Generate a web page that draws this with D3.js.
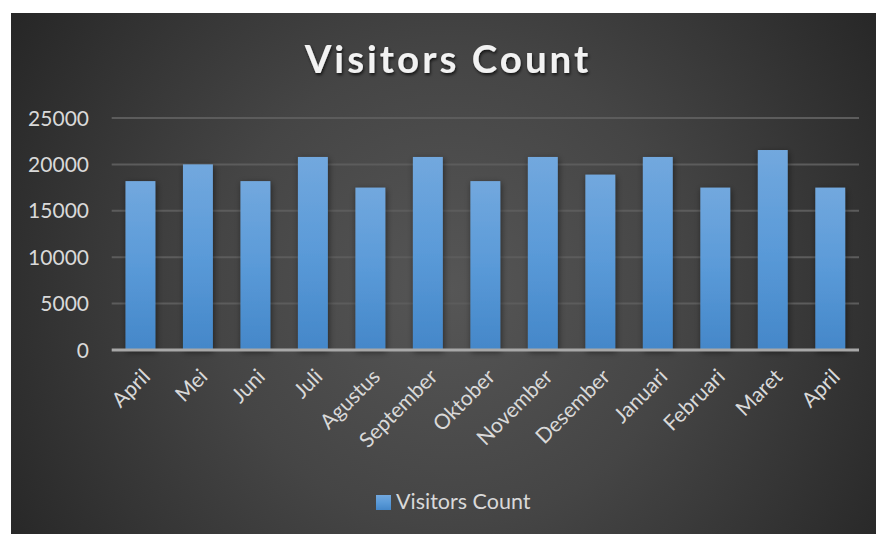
<!DOCTYPE html>
<html>
<head>
<meta charset="utf-8">
<script src="https://cdn.jsdelivr.net/npm/d3@7"></script>
<style>
  html, body { margin: 0; padding: 0; background: #ffffff; }
  svg { display: block; }
</style>
</head>
<body>
<svg id="chart" width="876" height="534"></svg>
<script>
const categories = ["April","Mei","Juni","Juli","Agustus","September","Oktober","November","Desember","Januari","Februari","Maret","April"];
const visitors = [18200, 20000, 18200, 20800, 17500, 20800, 18200, 20800, 18900, 20800, 17500, 21550, 17500];
const yTicks = [0, 5000, 10000, 15000, 20000, 25000];
const seriesName = "Visitors Count";
const titleText = "Visitors Count";

(function () {
const W = 876, H = 534;
const svg = d3.select("#chart");
const font = "Lato, 'Open Sans', sans-serif";

const defs = svg.append("defs");
const bg = defs.append("radialGradient").attr("id", "bg")
  .attr("gradientUnits", "userSpaceOnUse")
  .attr("cx", 450).attr("cy", 290).attr("r", 520);
bg.append("stop").attr("offset", "0%").attr("stop-color", "#565656");
bg.append("stop").attr("offset", "45%").attr("stop-color", "#454545");
bg.append("stop").attr("offset", "100%").attr("stop-color", "#262626");

const barGrad = defs.append("linearGradient").attr("id", "barGrad")
  .attr("x1", 0).attr("y1", 0).attr("x2", 0).attr("y2", 1);
barGrad.append("stop").attr("offset", "0%").attr("stop-color", "#72a8de");
barGrad.append("stop").attr("offset", "50%").attr("stop-color", "#5a9ad8");
barGrad.append("stop").attr("offset", "100%").attr("stop-color", "#4487c9");

const shadow = defs.append("filter").attr("id", "shadow")
  .attr("x", "-50%").attr("y", "-20%").attr("width", "200%").attr("height", "140%");
shadow.append("feDropShadow").attr("dx", 1).attr("dy", 2).attr("stdDeviation", 3)
  .attr("flood-color", "#000").attr("flood-opacity", 0.5);

const tshadow = defs.append("filter").attr("id", "tshadow")
  .attr("x", "-10%").attr("y", "-30%").attr("width", "120%").attr("height", "160%");
tshadow.append("feDropShadow").attr("dx", 1).attr("dy", 2).attr("stdDeviation", 1.5)
  .attr("flood-color", "#000").attr("flood-opacity", 0.7);

svg.append("rect").attr("x", 11).attr("y", 13).attr("width", W - 11).attr("height", H - 13)
  .attr("fill", "url(#bg)");

const pLeft = 111.7, pRight = 859, pTop = 118, pBottom = 350;

const x = d3.scaleBand().domain(d3.range(categories.length)).range([pLeft, pRight]).paddingInner(0.48).paddingOuter(0.24);
const y = d3.scaleLinear().domain([0, 25000]).range([pBottom, pTop]);

// gridlines
svg.append("g").selectAll("line").data(yTicks.filter(d => d > 0)).join("line")
  .attr("x1", pLeft).attr("x2", pRight)
  .attr("y1", d => y(d)).attr("y2", d => y(d))
  .attr("stroke", "#5c5c5c").attr("stroke-width", 2);

// y axis labels
const yAxis = d3.axisLeft(y).tickValues(yTicks).tickSize(0).tickPadding(0).tickFormat(d3.format("d"));
const gy = svg.append("g").attr("transform", `translate(89,0)`).call(yAxis);
gy.select(".domain").remove();
gy.selectAll("text").attr("font-family", font).attr("font-size", 21)
  .attr("fill", "#d9d9d9").attr("dy", "0.34em");

// bars
svg.append("g").selectAll("rect").data(visitors).join("rect")
  .attr("x", (d, i) => x(i)).attr("width", x.bandwidth())
  .attr("y", d => y(d)).attr("height", d => pBottom - y(d))
  .attr("fill", "url(#barGrad)").attr("filter", "url(#shadow)");

// baseline
svg.append("line").attr("x1", pLeft).attr("x2", pRight)
  .attr("y1", pBottom).attr("y2", pBottom)
  .attr("stroke", "#a8a8a8").attr("stroke-width", 3);

// x axis labels
const xAxis = d3.axisBottom(x).tickSize(0).tickFormat(i => categories[i]);
const gx = svg.append("g").attr("transform", `translate(0,${pBottom})`).call(xAxis);
gx.select(".domain").remove();
gx.selectAll("text")
  .attr("font-family", font).attr("font-size", 21).attr("fill", "#d9d9d9")
  .attr("text-anchor", "end").attr("dy", 0).attr("y", 0)
  .attr("transform", "translate(11,28) rotate(-45)");

// title
svg.append("text").attr("x", 448).attr("y", 73)
  .attr("text-anchor", "middle").attr("font-family", font).attr("font-weight", 700)
  .attr("font-size", 38.5).attr("letter-spacing", 3).attr("fill", "#f2f2f2")
  .attr("filter", "url(#tshadow)").text(titleText);

// legend
const lg = svg.append("g").attr("transform", "translate(376,495)");
lg.append("rect").attr("width", 15).attr("height", 15).attr("fill", "url(#barGrad)");
lg.append("text").attr("x", 20).attr("y", 14).attr("font-family", font).attr("font-size", 21.5)
  .attr("fill", "#d9d9d9").text(seriesName);
})();
</script>
</body>
</html>
